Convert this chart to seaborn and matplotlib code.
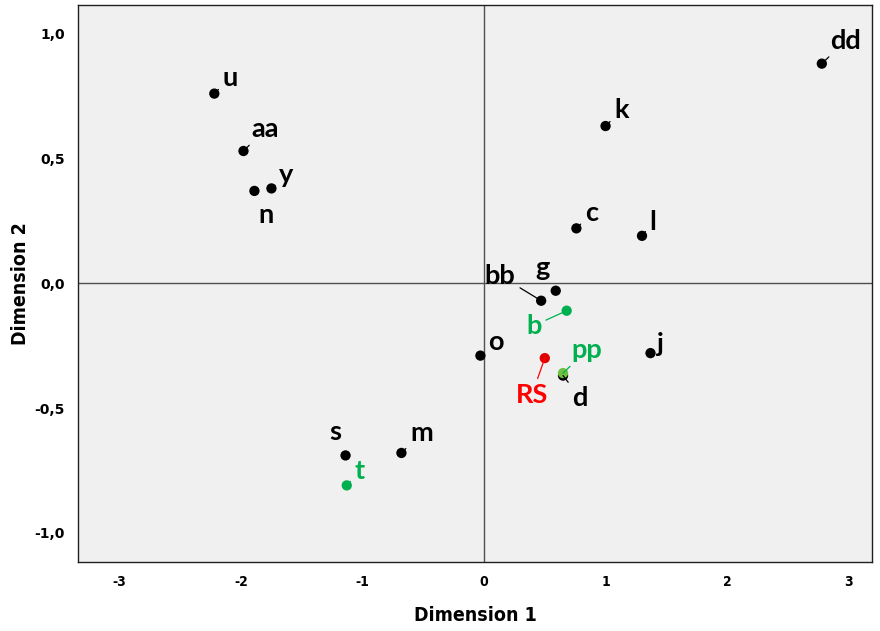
import matplotlib
matplotlib.use("Agg")
import matplotlib.pyplot as plt
import seaborn as sns
import pandas as pd

# Object points (dimension 1, dimension 2)
names = ["u", "aa", "y", "n", "dd", "k", "c", "l", "g", "bb", "b",
         "o", "RS", "d", "pp", "j", "s", "m", "t"]
dim1 = [-2.22, -1.98, -1.75, -1.89, 2.78, 1.00, 0.76, 1.30, 0.59, 0.47, 0.68,
        -0.03, 0.50, 0.65, 0.65, 1.37, -1.14, -0.68, -1.13]
dim2 = [0.76, 0.53, 0.38, 0.37, 0.88, 0.63, 0.22, 0.19, -0.03, -0.07, -0.11,
        -0.29, -0.30, -0.37, -0.36, -0.28, -0.69, -0.68, -0.81]
group = ["other", "other", "other", "other", "other", "other", "other", "other", "other", "other", "green",
         "other", "RS", "other", "pp", "other", "other", "other", "green"]

df = pd.DataFrame({"name": names, "Dimension 1": dim1, "Dimension 2": dim2, "group": group})

dot_colors = {"other": "#000000", "green": "#00b050", "RS": "#e00000", "pp": "#70c040"}
text_colors = {"other": "#000000", "green": "#00b050", "RS": "#ff0000", "pp": "#00b050"}

# label offsets in pixels (dx, dy), and whether a leader line is drawn
offsets = {"u": (16, 16, True), "aa": (22, 22, True), "y": (15, 13, True), "n": (12, -24, False),
           "dd": (24, 23, True), "k": (16, 16, True), "c": (15, 15, True), "l": (11, 14, True),
           "g": (-13, 23, False), "bb": (-41, 25, True), "b": (-33, -15, True), "o": (15, 14, True),
           "RS": (-13, -37, True), "d": (17, -22, True), "pp": (24, 23, True), "j": (10, 9, True),
           "s": (-10, 23, False), "m": (20, 20, True), "t": (13, 14, True)}

sns.set_style("white")
plt.rcParams["font.family"] = ["DejaVu Sans"]

fig = plt.figure(figsize=(8.8, 6.31), dpi=100)
ax = fig.add_axes([78 / 880, 1 - 562 / 631, 794 / 880, 557 / 631])
ax.set_facecolor("#f0f0f0")

ax.axhline(0, color="#505050", lw=1, zorder=1)
ax.axvline(0, color="#505050", lw=1, zorder=1)

sns.scatterplot(data=df, x="Dimension 1", y="Dimension 2", hue="group", palette=dot_colors,
                s=55, linewidth=0, legend=False, ax=ax, zorder=3)

for nm, x, y, g in zip(names, dim1, dim2, group):
    dx, dy, leader = offsets[nm]
    props = dict(arrowstyle="-", color=text_colors[g], lw=0.9, shrinkA=1, shrinkB=0) if leader else None
    ax.annotate(nm, xy=(x, y), xytext=(dx, dy), textcoords="offset pixels",
                ha="center", va="center", fontsize=19.5, family="Lato", fontweight="bold",
                color=text_colors[g], arrowprops=props, zorder=4)

ax.set_xlim(-3.342, 3.193)
ax.set_ylim(-1.117, 1.115)
ax.set_xticks([-3, -2, -1, 0, 1, 2, 3])
ax.set_yticks([-1.0, -0.5, 0.0, 0.5, 1.0])
ax.set_xticklabels(["-3", "-2", "-1", "0", "1", "2", "3"], fontweight="bold", fontsize=10,
                   fontstretch="condensed")
ax.set_yticklabels(["-1,0", "-0,5", "0,0", "0,5", "1,0"], fontweight="bold", fontsize=10)
ax.tick_params(axis="both", length=6, width=0.8, color="#404040", labelcolor="black", direction="out")
for sp in ax.spines.values():
    sp.set_color("#202020")
    sp.set_linewidth(1)

ax.set_xlabel("Dimension 1", fontweight="bold", fontsize=14, fontstretch="condensed",
              color="black", labelpad=12)
ax.set_ylabel("Dimension 2", fontweight="bold", fontsize=14, fontstretch="condensed",
              color="black", labelpad=3)

fig.savefig("out.png", dpi=100)
